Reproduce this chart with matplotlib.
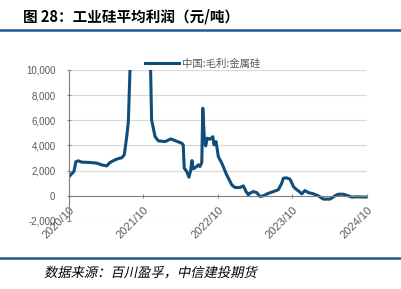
import matplotlib

matplotlib.use("Agg")
import matplotlib.pyplot as plt
import matplotlib.dates as mdates
from matplotlib.patches import PathPatch
from matplotlib.textpath import TextPath
from matplotlib.font_manager import FontProperties
from matplotlib.transforms import Affine2D

plt.rcParams["font.family"] = ["Liberation Sans", "Noto Sans CJK SC", "DejaVu Sans"]

# 中国:毛利:金属硅 (元/吨)
dates = [
    "2020-10-02", "2020-10-17", "2020-10-25", "2020-11-04", "2020-11-16", "2020-12-02",
    "2021-01-12", "2021-02-14", "2021-03-10", "2021-04-04", "2021-04-20", "2021-05-15",
    "2021-05-31", "2021-06-16", "2021-06-29", "2021-07-11", "2021-07-19", "2021-07-27",
    "2021-08-06", "2021-08-26", "2021-09-30", "2021-10-24", "2021-11-05", "2021-11-10",
    "2021-11-27", "2021-12-13", "2022-01-15", "2022-02-12", "2022-03-05", "2022-04-07",
    "2022-04-14", "2022-04-19", "2022-05-01", "2022-05-12", "2022-05-21", "2022-05-27",
    "2022-06-02", "2022-06-19", "2022-06-27", "2022-07-05", "2022-07-14", "2022-07-19",
    "2022-07-26", "2022-08-02", "2022-08-10", "2022-08-23", "2022-09-06", "2022-09-12",
    "2022-09-22", "2022-10-03", "2022-10-20", "2022-11-13", "2022-12-08", "2022-12-24",
    "2023-01-17", "2023-02-03", "2023-02-16", "2023-02-27", "2023-03-07", "2023-03-24",
    "2023-04-09", "2023-04-25", "2023-05-12", "2023-05-31", "2023-06-30", "2023-07-24",
    "2023-08-10", "2023-08-18", "2023-09-03", "2023-09-20", "2023-10-06", "2023-10-19",
    "2023-11-04", "2023-11-16", "2023-12-02", "2023-12-18", "2024-01-12", "2024-02-05",
    "2024-03-01", "2024-04-03", "2024-04-27", "2024-05-13", "2024-06-07", "2024-07-01",
    "2024-07-18", "2024-08-12", "2024-09-30",
]
profit = [
    1530, 1800, 1930, 2720, 2780, 2680,
    2650, 2600, 2460, 2380, 2650, 2860,
    2960, 3020, 3260, 4700, 5900, 10000,
    13000, 16500, 15500, 12000, 10000, 6030,
    4700, 4370, 4310, 4520, 4390, 4180,
    4050, 2200, 1930, 1480, 2060, 2800,
    2140, 2330, 2460, 2330, 2650, 6960,
    4700, 3970, 4580, 4500, 4700, 4050,
    4310, 3120, 2600, 1670, 870, 660,
    660, 790, 340, 80, 210, 340,
    260, -50, 0, 160, 340, 480,
    1000, 1400, 1430, 1320, 740, 530,
    340, 160, 420, 260, 160, 0,
    -260, -260, 0, 130, 130, 0,
    -100, -80, -100,
]
xticks = ["2020-10-01", "2021-10-01", "2022-10-01", "2023-10-01", "2024-10-01"]
xtick_labels = ["2020/10", "2021/10", "2022/10", "2023/10", "2024/10"]
yticks = [-2000, 0, 2000, 4000, 6000, 8000, 10000]

blue = "#0f4d7a"
grey_txt = "#595959"

x = [mdates.datestr2num(d) for d in dates]
xt = [mdates.datestr2num(d) for d in xticks]

fig = plt.figure(figsize=(4.01, 2.89), dpi=100)
ax = fig.add_axes([69 / 401, (289 - 221) / 289, 298 / 401, 151 / 289])

# spines first: moving a spine resets the ticks
ax.spines["bottom"].set_position(("data", 0))
ax.spines["bottom"].set_color("#7f7f7f")
ax.spines["left"].set_color("#7f7f7f")
for s in ("top", "right"):
    ax.spines[s].set_visible(False)

ax.plot(x, profit, color=blue, linewidth=2.2, solid_joinstyle="round",
        label="中国:毛利:金属硅")

ax.set_xlim(xt[0], xt[-1])
ax.set_ylim(-2000, 10000)
ax.set_yticks(yticks)
ax.set_yticklabels([f"{v:,}" for v in yticks], color=grey_txt, fontsize=7)
ax.set_xticks(xt)
ax.set_xticklabels(xtick_labels, color=grey_txt, fontsize=8, rotation=45,
                   ha="right", rotation_mode="anchor")
ax.tick_params(axis="y", direction="inout", length=3.5, width=0.8, color="#888888", pad=8)
ax.tick_params(axis="x", direction="inout", length=3.5, width=0.8, color="#888888", pad=5)

for v in yticks:
    if v != 0:
        ax.axhline(v, color="#d9d9d9", linewidth=0.9, zorder=0)

ax.legend(loc="lower left", bbox_to_anchor=(0.24, 0.98), frameon=False,
          handlelength=3.3, handletextpad=0.3, borderaxespad=0,
          labelcolor=grey_txt, prop={"family": ["Noto Sans CJK SC"], "size": 7.5})

fig.text(23 / 401, 1 - 16 / 289, "图 28：工业硅平均利润（元/吨）", fontsize=10.5,
         fontweight="bold", va="center", ha="left",
         family=["Noto Sans CJK SC", "DejaVu Sans"])
for yy in (30, 258):
    fig.add_artist(plt.Line2D([0, 1], [1 - yy / 289, 1 - yy / 289], color="#1f5a8a",
                              linewidth=1.8, transform=fig.transFigure))

# source note, slanted like the reference (CJK fonts have no italic face)
tp = TextPath((0, 0), "数据来源：百川盈孚，中信建投期货", size=13.3,
              prop=FontProperties(family="Noto Sans CJK SC"))
tr = Affine2D().skew_deg(12, 0).translate(44, 289 - 277)
fig.add_artist(PathPatch(tp, transform=tr + Affine2D().scale(1 / 401, 1 / 289) + fig.transFigure,
                         facecolor="black", edgecolor="none"))

fig.savefig("out.png", dpi=100)
